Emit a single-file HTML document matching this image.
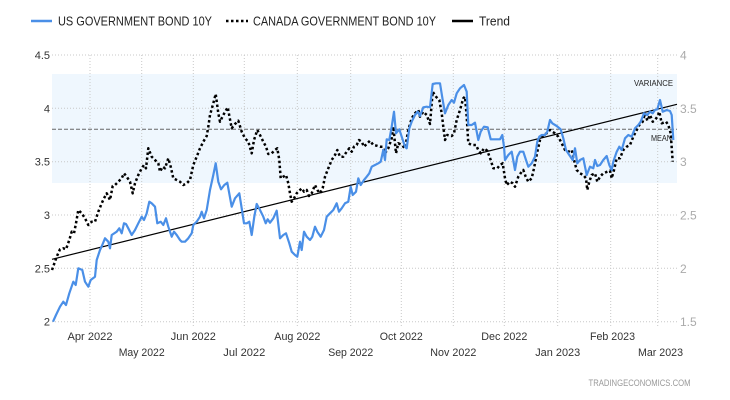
<!DOCTYPE html>
<html><head><meta charset="utf-8"><style>
html,body{margin:0;padding:0;background:#fff;}
svg{display:block;}
text{font-family:"Liberation Sans",Arial,sans-serif;}
</style></head><body>
<svg width="730" height="400" viewBox="0 0 730 400" xmlns="http://www.w3.org/2000/svg">
<rect width="730" height="400" fill="#fff"/>
<!-- legend -->
<line x1="31" y1="21" x2="52" y2="21" stroke="#4a8fe7" stroke-width="2.5"/>
<text x="58" y="25.5" font-size="13" fill="#222" textLength="154" lengthAdjust="spacingAndGlyphs">US GOVERNMENT BOND 10Y</text>
<line x1="226" y1="21" x2="248" y2="21" stroke="#000" stroke-width="2.5" stroke-dasharray="2.5 2.5"/>
<text x="253" y="25.5" font-size="13" fill="#222" textLength="183" lengthAdjust="spacingAndGlyphs">CANADA GOVERNMENT BOND 10Y</text>
<line x1="452" y1="21" x2="473" y2="21" stroke="#000" stroke-width="2.5"/>
<text x="479" y="25.5" font-size="13" fill="#222" textLength="31" lengthAdjust="spacingAndGlyphs">Trend</text>

<!-- variance band -->
<rect x="52" y="74" width="625" height="109" fill="#eff7fe"/>

<!-- horizontal grid -->
<g stroke="#c8c8c8" stroke-width="1" stroke-dasharray="1 2">
<line x1="52" y1="55" x2="677" y2="55"/>
<line x1="52" y1="108.3" x2="677" y2="108.3"/>
<line x1="52" y1="161.7" x2="677" y2="161.7"/>
<line x1="52" y1="215" x2="677" y2="215"/>
<line x1="52" y1="268.3" x2="677" y2="268.3"/>
<line x1="52" y1="321.7" x2="677" y2="321.7"/>
</g>
<!-- vertical grid -->
<g stroke="#c8c8c8" stroke-width="1" stroke-dasharray="1 2">
<line x1="90" y1="55" x2="90" y2="326"/>
<line x1="141.7" y1="55" x2="141.7" y2="326"/>
<line x1="193.3" y1="55" x2="193.3" y2="326"/>
<line x1="244.3" y1="55" x2="244.3" y2="326"/>
<line x1="297.3" y1="55" x2="297.3" y2="326"/>
<line x1="350.7" y1="55" x2="350.7" y2="326"/>
<line x1="401.3" y1="55" x2="401.3" y2="326"/>
<line x1="453.3" y1="55" x2="453.3" y2="326"/>
<line x1="504.3" y1="55" x2="504.3" y2="326"/>
<line x1="557.7" y1="55" x2="557.7" y2="326"/>
<line x1="610.7" y1="55" x2="610.7" y2="326"/>
<line x1="657.7" y1="55" x2="657.7" y2="326"/>
</g>

<!-- mean line -->
<line x1="52" y1="129.3" x2="677" y2="129.3" stroke="#666" stroke-width="1" stroke-dasharray="4 2"/>
<text x="673" y="86" font-size="8" fill="#222" text-anchor="end" textLength="39" lengthAdjust="spacingAndGlyphs">VARIANCE</text>
<text x="672" y="141" font-size="8" fill="#222" text-anchor="end" textLength="21" lengthAdjust="spacingAndGlyphs">MEAN</text>

<!-- left axis -->
<g font-size="11" fill="#333" text-anchor="end">
<text x="50" y="59">4.5</text>
<text x="50" y="112.3">4</text>
<text x="50" y="165.7">3.5</text>
<text x="50" y="219">3</text>
<text x="50" y="272.3">2.5</text>
<text x="50" y="325.7">2</text>
</g>
<!-- right axis -->
<g font-size="12" fill="#aaa">
<text x="680" y="59.5">4</text>
<text x="680" y="112.8">3.5</text>
<text x="680" y="166.2">3</text>
<text x="680" y="219.5">2.5</text>
<text x="680" y="272.8">2</text>
<text x="680" y="326.2">1.5</text>
</g>
<!-- x axis labels -->
<g font-size="11" fill="#333" text-anchor="middle">
<text x="90" y="340" textLength="45" lengthAdjust="spacingAndGlyphs">Apr 2022</text>
<text x="193.3" y="340" textLength="45" lengthAdjust="spacingAndGlyphs">Jun 2022</text>
<text x="297.3" y="340" textLength="46" lengthAdjust="spacingAndGlyphs">Aug 2022</text>
<text x="401.3" y="340" textLength="43" lengthAdjust="spacingAndGlyphs">Oct 2022</text>
<text x="504.3" y="340" textLength="46" lengthAdjust="spacingAndGlyphs">Dec 2022</text>
<text x="612.5" y="340" textLength="45" lengthAdjust="spacingAndGlyphs">Feb 2023</text>
<text x="141.7" y="356" textLength="46" lengthAdjust="spacingAndGlyphs">May 2022</text>
<text x="244.3" y="356" textLength="42" lengthAdjust="spacingAndGlyphs">Jul 2022</text>
<text x="350.7" y="356" textLength="45" lengthAdjust="spacingAndGlyphs">Sep 2022</text>
<text x="453.3" y="356" textLength="46" lengthAdjust="spacingAndGlyphs">Nov 2022</text>
<text x="557.7" y="356" textLength="45" lengthAdjust="spacingAndGlyphs">Jan 2023</text>
<text x="660.5" y="356" textLength="45" lengthAdjust="spacingAndGlyphs">Mar 2023</text>
</g>
<text x="588.5" y="386" font-size="9" fill="#999" textLength="102" lengthAdjust="spacingAndGlyphs">TRADINGECONOMICS.COM</text>

<!-- trend -->
<line x1="52" y1="259.3" x2="677" y2="104.3" stroke="#000" stroke-width="1.2"/>

<!-- Canada -->
<polyline fill="none" stroke="#000" stroke-width="2.5" stroke-dasharray="2.5 2.5" stroke-linejoin="round" points="52,270 56.7,256.7 60,249.3 63.3,248.3 66,249.3 69.3,240 71.7,231.7 74,233.3 76,223.3 78.3,210 81.7,213.3 85,218.3 88.3,225 91.7,221.7 95,221.7 98.3,211.7 101.7,203.3 104,198.3 106.7,193.3 110,200 112.7,186 115,185 118.3,181.7 121.7,178.3 124,173.3 126.7,176.7 130,181.7 132.7,193.3 135,183.3 138.3,175 141.7,168.3 144,165 146,168.3 148.3,148.3 151.7,156.7 155,160 158.3,163.3 160,171.7 162.7,166.7 165,168.3 168.3,158.3 170.7,166.7 173.3,178.3 176.7,180 180,181.7 183.3,185 186.7,183.3 190,180 193.3,165 196.7,156.7 200,148.3 203.3,141.7 206.7,136 208.3,126.7 210,115 213.3,103.3 215.7,94 218.3,113.3 220,121.7 223.3,115 227.7,107.3 231.7,128.3 235,124 238.3,120.7 241.7,131.7 245,138.3 248.3,141.7 251.7,153.3 254,140 257.3,130 260,135 263.3,141.7 266,146.7 268.3,154 271.7,153.3 275,150 277.3,148.3 279.3,160 280.7,178.3 283.3,176.7 286,175 288.3,183.3 290,193.3 291.7,201.7 294,198.3 296.7,193.3 300,190 301.7,188.3 304,191.7 306.7,190 309,196 311.7,193.3 315,185 317.3,190 320,193.3 322.7,188.3 325,176.7 328.3,168.3 331.7,160 335,155 337.3,150 340,156.7 343.3,156.7 346.7,151.7 349.3,148.3 351.7,151.7 354,146.7 356.7,145 359,140 361.7,141.7 364,146.7 366.7,144 370,140.7 373.3,145 376.7,145.7 380,146.7 382.7,146.7 385,153.3 388.3,148.3 391.7,138.3 393.3,126.7 396,153.3 398.3,143.3 401.7,145 405,148.3 408.3,130 411.7,118.3 415,113.3 418.3,110 420,116.7 423.3,111.7 426.7,115 430,124 432.7,91.7 436,96.7 439.3,100 441.7,113.3 443.3,126.7 445,140 447.3,135 451.7,136 454,133.3 456.7,120 460,110 463.3,98.3 465,96.7 466.7,116.7 468.3,143.3 471.7,145 476,145 478.3,150 480.7,153.3 484,148.3 487.3,150.7 490.7,160 493.3,168.3 497.3,168.3 500,165 502.7,163.3 505,178.3 506.7,185 510,181.7 512.7,183.3 515,186.7 518.3,176.7 521.7,171.7 523.3,170 525.7,176.7 528.3,181.7 531.7,178.3 534,168.3 537.3,151.7 540,140 543.3,135 546.7,133.3 550,130 552.3,131.7 555,133.3 558.3,136.7 561.7,143.3 565,150 568.3,151.7 571.7,150 574,160 576.7,170 580,173.3 583.3,175 586,178.3 587.3,190 589.3,181.7 591.7,175 595,173.3 597.3,181.7 600,176.7 603.3,173.3 607.3,171.7 610,170.7 611.7,178.3 614,170 616.7,158.3 620,158.3 623.3,150 626.7,146.7 630,145 633.3,136.7 636.7,130 639.3,125 642.7,121.7 645,113.3 647.3,120.7 650,115 652.7,121.7 655,120 657.3,116.7 659.3,111.7 661.7,123.3 666,121.7 668.3,125 670.7,133.3 672.7,161.7"/>

<!-- US -->
<polyline fill="none" stroke="#4a8fe7" stroke-width="2.2" stroke-linejoin="round" points="53,321.7 56,315 60,306.7 63.3,301.7 66,305 69.3,293.3 73.3,281.7 75.7,285 78.3,268.3 82.3,270 85,281.7 88.3,286.7 90.7,280 95,276.7 96.7,260 100,250 102.3,245 105,238.3 108.3,241.7 110,248.3 111.7,235 116.7,231.7 119.3,228.3 121.7,233.3 124,223.3 126,224 128.3,228.3 131.7,235 135,230 138.3,223.3 141.7,216.7 144,220 146.7,213.3 149.3,201.7 151.7,203.3 155,206.7 157.3,223.3 160.7,221.7 163.3,225 166,218.3 168.3,226.7 171.7,236.7 174,231.7 176.7,235 180,240 181.7,241.7 185,241.7 188.3,238.3 191.7,233.3 193.3,225 196.7,221.7 200,216.7 201.7,211.7 204,218.3 206.7,210 210,190 213.3,175 215.7,163.3 218.3,181.7 221,189.3 224.3,185 227.3,182.7 231.7,206.7 235,198.3 239.3,193.3 241.7,208.3 244,223.3 246.7,223.3 249.3,221.7 251.7,235 254.3,216.7 256.7,204 260,210 263.3,216.7 265.7,223.3 267.7,219.3 270,222.7 273.3,218.3 276.7,210.7 280,238.3 283.3,235 286,233.3 289.3,243.3 291.7,251.7 295,255 297.3,256.7 300,241.7 301.7,250 304,231.7 306.7,236.7 310,240 312.3,236.7 315,226.7 317.3,231.7 320.7,236.7 324,230 326.7,216.7 330,213.3 333.3,210 336.7,203.3 339,211.7 341.7,208.3 345,203.3 348.3,201.7 350.7,186.7 352.7,195 356,191.7 358.3,178.3 360.7,185 364,180 366.7,176.7 369.3,173.3 371.7,166.7 375,165 378.3,163.3 380.7,161.7 383.3,150 385,160 386.7,139.3 389.3,140 391.7,126.7 394,111.7 396,133.3 399.3,129.3 401.7,136.7 405,146.7 406.7,148.3 409.3,128.3 411.7,121.7 415,115 417.7,111.7 420,116 423.3,107.3 426.7,106.7 430,107.3 432.7,84 436,83.3 440,83.3 442.7,100 445,113.3 448.3,105 451.7,100 454,102.7 456.7,93.3 460,88.3 464,85 466.7,91.7 468.3,125 471.7,125 475,122.7 478.3,140 480.7,131.7 484,126.7 487.7,127.3 490.7,139.3 493.3,139.3 497.3,139.3 500,139.3 502.3,135 504,146.7 505,160 508.3,155 511.7,151.7 515,170 517.3,156.7 520,151.7 523.3,151.7 526,160 528.3,166.7 531.7,163.3 535,156.7 537.3,141.7 539.3,136.7 541.7,135 545,135 547.3,131.7 550,120 552.3,123.3 556.7,126 560.7,129.3 563.3,138.3 566,150 569.3,155 572.7,160 575,148.3 577.3,163.3 580,160 583.3,158.3 586.7,175 590,166.7 593.3,168.3 595,160 597.3,166 600,165 603.3,160 606.7,156 609.3,165 611.7,170 613.3,161.7 616.7,151.7 619.3,146.7 621.7,150 625,138.3 628.3,135 631.7,136.7 635,128.3 638.3,125 640.7,121.7 644,113.3 647.3,115 650,111.7 652.7,113.3 655,110 657.3,109.3 660,100 662.7,111.7 666.7,110 670,111 671.7,115 673.3,140"/>
</svg>
</body></html>
